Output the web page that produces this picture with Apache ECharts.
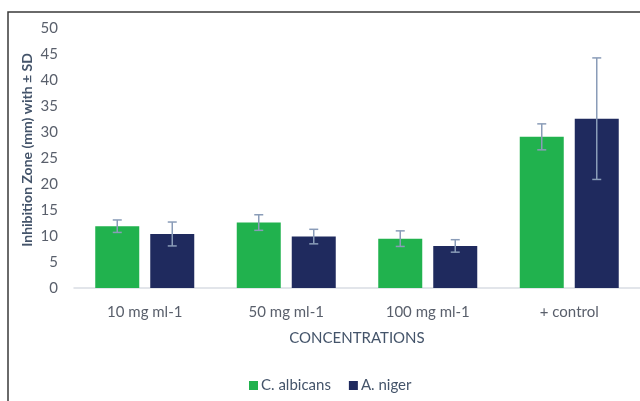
<!DOCTYPE html>
<html>
<head>
<meta charset="utf-8">
<script src="https://cdn.jsdelivr.net/npm/echarts@6/dist/echarts.min.js"></script>
<style>
  html, body { margin: 0; padding: 0; background: #fff; }
  #chart { width: 640px; height: 401px; }
</style>
</head>
<body>
<div id="chart"></div>
<script>
// Inhibition zone (mm) by concentration, mean and standard deviation
const categories = ['10 mg ml-1', '50 mg ml-1', '100 mg ml-1', '+ control'];
const seriesNames = ['C. albicans', 'A. niger'];
const albicansMean = [11.9, 12.6, 9.5, 29.1];
const albicansSD = [1.2, 1.5, 1.5, 2.5];
const nigerMean = [10.4, 9.9, 8.1, 32.6];
const nigerSD = [2.3, 1.4, 1.2, 11.7];
const yTicks = [0, 5, 10, 15, 20, 25, 30, 35, 40, 45, 50];

const COLORS = ['#21b24e', '#1f2a5e'];
const BAR_W = 44;
const BAR_GAP = 11;
const FONT = 'Lato, "Open Sans", sans-serif';

const chart = echarts.init(document.getElementById('chart'), null, { renderer: 'canvas' });

// Error bars drawn as whiskers over each bar; offset left/right of category center
function errorSeries(means, sds, sideIndex) {
  const data = means.map((m, i) => [i, m - sds[i], m + sds[i]]);
  return {
    type: 'custom',
    name: seriesNames[sideIndex] + ' SD',
    z: 10,
    silent: true,
    renderItem: function (params, api) {
      const idx = api.value(0);
      const lo = api.coord([idx, api.value(1)]);
      const hi = api.coord([idx, api.value(2)]);
      const shift = (sideIndex === 0 ? -1 : 1) * (BAR_W + BAR_GAP) / 2;
      const x = lo[0] + shift;
      const half = 4.5;
      const style = { stroke: '#8a9cb8', lineWidth: 1.5 };
      return {
        type: 'group',
        children: [
          { type: 'line', shape: { x1: x, y1: hi[1], x2: x, y2: lo[1] }, style: style },
          { type: 'line', shape: { x1: x - half, y1: hi[1], x2: x + half, y2: hi[1] }, style: style },
          { type: 'line', shape: { x1: x - half, y1: lo[1], x2: x + half, y2: lo[1] }, style: style }
        ]
      };
    },
    encode: { x: 0, y: [1, 2] },
    data: data
  };
}

const option = {
  animation: false,
  backgroundColor: '#ffffff',
  grid: { left: 74, top: 28.3, width: 573, height: 259.7, containLabel: false },
  legend: {
    data: seriesNames,
    bottom: 3,
    left: 244,
    itemWidth: 9,
    itemHeight: 9,
    itemGap: 18,
    icon: 'rect',
    textStyle: { color: '#44546a', fontSize: 15, fontFamily: FONT, padding: [0, 0, 0, -2] }
  },
  xAxis: {
    type: 'category',
    data: categories,
    name: 'CONCENTRATIONS',
    nameLocation: 'middle',
    nameGap: 43,
    nameTextStyle: { color: '#44546a', fontSize: 15, fontFamily: FONT },
    axisLine: { lineStyle: { color: '#d9dde3', width: 1.5 } },
    axisTick: { show: false },
    axisLabel: { color: '#595f6b', fontSize: 15, fontFamily: FONT, margin: 17 }
  },
  yAxis: {
    type: 'value',
    min: yTicks[0],
    max: yTicks[yTicks.length - 1],
    interval: yTicks[1] - yTicks[0],
    axisLine: { show: false },
    axisTick: { show: false },
    splitLine: { show: false },
    axisLabel: { color: '#595f6b', fontSize: 15, fontFamily: FONT, margin: 16 }
  },
  graphic: [
    {
      type: 'rect',
      shape: { x: 8, y: 12, width: 700, height: 500 },
      style: { fill: 'none', stroke: '#3a3a3a', lineWidth: 1.5 },
      z: 100
    },
    {
      type: 'text',
      x: 27, y: 150,
      rotation: Math.PI / 2,
      style: {
        text: 'Inhibition Zone (mm) with ± SD',
        fill: '#44546a',
        font: 'bold 14px ' + FONT,
        align: 'center',
        verticalAlign: 'middle'
      }
    }
  ],
  series: [
    {
      name: seriesNames[0],
      type: 'bar',
      data: albicansMean,
      barWidth: BAR_W,
      barGap: (BAR_GAP / BAR_W * 100) + '%',
      itemStyle: { color: COLORS[0] }
    },
    {
      name: seriesNames[1],
      type: 'bar',
      data: nigerMean,
      barWidth: BAR_W,
      itemStyle: { color: COLORS[1] }
    },
    errorSeries(albicansMean, albicansSD, 0),
    errorSeries(nigerMean, nigerSD, 1)
  ]
};

chart.setOption(option);
</script>
</body>
</html>
